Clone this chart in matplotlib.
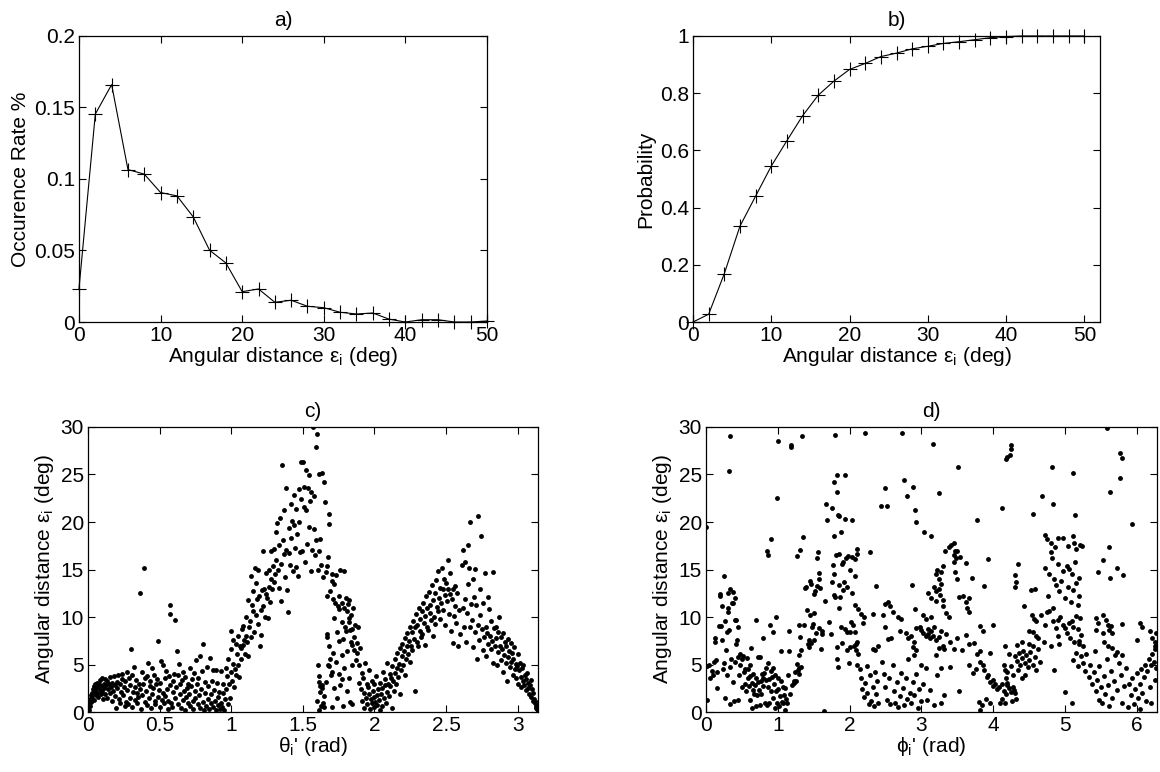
import numpy as np
import matplotlib
matplotlib.use('Agg')
import matplotlib.pyplot as plt
from matplotlib.ticker import FuncFormatter

plt.rcParams['font.family'] = ['Liberation Sans', 'DejaVu Sans']
plt.rcParams['mathtext.fontset'] = 'custom'
plt.rcParams['mathtext.rm'] = 'Liberation Sans'

# a) occurrence rate per 2 deg bin
eps_bins = [0, 2, 4, 6, 8, 10, 12, 14, 16, 18, 20, 22, 24, 26, 28, 30, 32, 34, 36, 38, 40, 42, 44, 46, 48, 50]
occ_rate = [0.0233, 0.1454, 0.166, 0.1066, 0.1034, 0.0905, 0.0882, 0.0735, 0.0502, 0.0413,
            0.0212, 0.0231, 0.0138, 0.0152, 0.011, 0.010, 0.0068, 0.0056, 0.0063, 0.002,
            0.0, 0.0016, 0.0016, 0.0, 0.0, 0.0007]

# b) cumulative probability
cum_prob = [0.0, 0.027, 0.169, 0.335, 0.44, 0.545, 0.634, 0.721, 0.793, 0.842,
            0.883, 0.904, 0.928, 0.94, 0.955, 0.964, 0.974, 0.98, 0.987, 0.994,
            0.998, 1.0, 1.0, 1.0, 1.0, 1.0]

# c) angular distance vs theta' (rad, deg)
theta_pts = [
    (0.005, 0.2), (0.008, 0.9), (0.012, 1.4), (0.015, 0.6), (0.02, 1.8), (0.022, 1.1), (0.026, 2.0), (0.03, 1.5),
    (0.033, 2.4), (0.036, 1.9), (0.04, 2.7), (0.043, 1.3), (0.046, 2.2), (0.05, 2.9), (0.053, 1.8), (0.057, 2.5),
    (0.06, 3.1), (0.064, 2.0), (0.068, 2.6), (0.072, 1.6), (0.075, 2.9), (0.08, 2.3), (0.083, 3.4), (0.087, 1.9),
    (0.09, 2.7), (0.095, 3.6), (0.1, 2.2), (0.104, 1.4), (0.108, 3.0), (0.112, 2.5), (0.116, 3.5), (0.12, 1.9),
    (0.125, 2.8), (0.13, 3.3), (0.135, 1.5), (0.14, 2.4), (0.145, 3.0), (0.15, 2.0), (0.155, 3.7), (0.16, 2.6),
    (0.165, 1.2), (0.17, 3.1), (0.175, 2.2), (0.18, 3.8), (0.185, 2.8), (0.19, 1.7), (0.195, 0.4), (0.2, 3.2),
    (0.205, 2.5), (0.21, 3.9), (0.215, 1.4), (0.22, 2.9), (0.225, 0.9), (0.23, 2.1), (0.235, 3.5), (0.24, 4.0),
    (0.245, 1.8), (0.25, 2.6), (0.255, 0.6), (0.26, 3.3), (0.265, 1.1), (0.27, 4.2), (0.275, 2.3), (0.28, 0.8),
    (0.285, 3.6), (0.29, 1.5), (0.295, 2.8), (0.3, 6.6), (0.305, 0.5), (0.31, 3.9), (0.315, 2.1), (0.32, 4.7),
    (0.325, 1.3), (0.33, 2.6), (0.335, 3.4), (0.34, 0.9), (0.345, 2.0), (0.35, 1.6), (0.355, 3.0), (0.36, 12.5),
    (0.365, 2.4), (0.37, 0.3), (0.375, 1.8), (0.38, 4.2), (0.385, 2.9), (0.39, 15.2), (0.395, 1.1), (0.4, 3.6),
    (0.405, 2.2), (0.41, 0.7), (0.415, 3.8), (0.42, 5.2), (0.425, 1.5), (0.43, 2.7), (0.435, 3.3), (0.44, 0.4),
    (0.445, 4.6), (0.45, 1.9), (0.455, 2.5), (0.46, 3.9), (0.465, 1.2), (0.47, 0.8), (0.475, 2.9), (0.48, 3.5),
    (0.485, 1.6), (0.49, 7.5), (0.495, 2.3), (0.5, 0.5), (0.505, 3.1), (0.51, 5.4), (0.515, 1.3), (0.52, 2.0),
    (0.525, 4.9), (0.53, 0.9), (0.535, 3.6), (0.54, 1.7), (0.545, 4.3), (0.55, 2.4), (0.555, 0.3), (0.56, 1.2),
    (0.565, 3.8), (0.57, 11.3), (0.572, 10.3), (0.575, 2.8), (0.58, 1.0), (0.585, 0.5), (0.59, 3.3), (0.595, 2.1),
    (0.6, 4.0), (0.605, 1.5), (0.61, 9.7), (0.615, 2.6), (0.62, 6.4), (0.625, 0.8), (0.63, 3.9), (0.635, 5.1),
    (0.64, 1.9), (0.645, 2.9), (0.65, 0.4), (0.655, 3.4), (0.66, 4.2), (0.665, 1.3), (0.67, 2.2), (0.675, 0.2),
    (0.68, 3.7), (0.685, 1.6), (0.69, 2.5), (0.695, 0.9), (0.7, 3.0), (0.705, 1.9), (0.71, 4.6), (0.715, 0.6),
    (0.72, 2.7), (0.725, 3.5), (0.73, 1.2), (0.735, 0.3), (0.74, 4.1), (0.745, 2.2), (0.75, 1.5), (0.755, 5.5),
    (0.76, 2.9), (0.765, 0.8), (0.77, 3.6), (0.775, 1.8), (0.78, 5.9), (0.785, 0.4), (0.79, 2.4), (0.795, 4.3),
    (0.8, 7.2), (0.805, 1.1), (0.81, 0.2), (0.815, 3.2), (0.82, 2.0), (0.825, 0.6), (0.83, 4.7), (0.835, 1.4),
    (0.84, 2.7), (0.845, 0.3), (0.85, 5.7), (0.855, 1.9), (0.86, 0.9), (0.865, 3.3), (0.87, 4.4), (0.875, 0.5),
    (0.88, 2.3), (0.885, 1.2), (0.89, 4.4), (0.895, 0.2), (0.9, 3.1), (0.905, 1.6), (0.91, 0.7), (0.915, 2.1),
    (0.92, 0.3), (0.925, 1.0), (0.93, 4.3), (0.935, 0.5), (0.94, 2.0), (0.945, 3.0), (0.95, 0.2), (0.955, 1.4),
    (0.96, 4.6), (0.965, 2.4), (0.97, 3.8), (0.975, 0.8), (0.98, 5.6), (0.985, 2.9), (0.99, 1.5), (0.995, 4.2),
    (1.0, 8.5), (1.0, 6.6), (1.005, 3.3), (1.01, 7.6), (1.015, 5.1), (1.02, 2.6), (1.025, 4.5), (1.03, 7.2),
    (1.035, 3.9), (1.04, 6.1), (1.045, 8.0), (1.05, 5.0), (1.055, 3.7), (1.06, 7.0), (1.065, 5.6), (1.07, 6.7),
    (1.075, 8.7), (1.08, 7.1), (1.085, 9.1), (1.09, 7.6), (1.095, 6.1), (1.1, 8.0), (1.105, 10.0), (1.11, 7.4),
    (1.115, 5.9), (1.12, 11.8), (1.125, 8.9), (1.13, 9.6), (1.135, 7.9), (1.14, 14.3), (1.145, 11.3), (1.15, 10.6),
    (1.155, 12.7), (1.16, 8.4), (1.165, 15.2), (1.17, 13.6), (1.175, 10.2), (1.18, 11.9), (1.185, 9.3), (1.19, 14.9),
    (1.195, 12.2), (1.2, 6.9), (1.205, 10.7), (1.21, 8.1), (1.215, 12.8), (1.22, 16.9), (1.225, 11.2), (1.23, 13.0),
    (1.235, 10.0), (1.24, 12.4), (1.245, 14.6), (1.25, 12.0), (1.255, 9.9), (1.26, 15.0), (1.265, 13.2), (1.27, 11.6),
    (1.275, 14.0), (1.28, 16.9), (1.285, 12.9), (1.29, 15.4), (1.295, 13.7), (1.3, 17.2), (1.305, 14.5), (1.31, 18.9),
    (1.315, 16.0), (1.32, 19.9), (1.325, 14.9), (1.33, 17.6), (1.335, 13.1), (1.34, 20.4), (1.345, 11.7), (1.35, 15.6),
    (1.355, 26.0), (1.36, 18.1), (1.365, 16.6), (1.37, 21.3), (1.375, 14.2), (1.38, 17.1), (1.385, 23.6), (1.39, 12.8),
    (1.395, 10.5), (1.4, 16.7), (1.405, 19.4), (1.41, 15.5), (1.415, 21.9), (1.42, 18.3), (1.425, 20.1), (1.43, 14.8),
    (1.435, 22.8), (1.44, 19.7), (1.445, 17.3), (1.45, 21.4), (1.455, 15.3), (1.46, 18.7), (1.465, 14.3), (1.47, 23.5),
    (1.475, 20.0), (1.48, 16.8), (1.485, 26.3), (1.49, 22.4), (1.495, 17.0), (1.5, 26.3), (1.505, 21.6), (1.51, 23.7),
    (1.515, 15.8), (1.52, 25.5), (1.525, 21.3), (1.53, 17.7), (1.535, 23.6), (1.54, 24.9), (1.545, 19.5), (1.55, 22.2),
    (1.555, 14.8), (1.56, 23.2), (1.565, 17.1), (1.57, 30.0), (1.575, 22.7), (1.58, 19.3), (1.585, 16.5), (1.59, 27.9),
    (1.595, 18.1), (1.6, 29.3), (1.605, 14.9), (1.61, 25.0), (1.615, 16.9), (1.62, 18.2), (1.625, 15.5), (1.63, 25.2),
    (1.6, 1.2), (1.605, 4.9), (1.61, 3.8), (1.612, 3.2), (1.615, 0.2), (1.62, 2.7), (1.622, 2.1), (1.625, 0.6),
    (1.63, 2.8), (1.635, 2.5), (1.64, 0.9), (1.645, 1.7), (1.65, 0.5), (1.66, 3.2),
    (1.64, 14.2), (1.65, 24.2), (1.655, 22.1), (1.66, 14.7), (1.665, 12.2), (1.67, 15.4), (1.675, 16.3), (1.68, 20.8),
    (1.685, 19.8), (1.69, 12.7), (1.7, 14.5), (1.705, 13.8), (1.71, 11.9), (1.715, 13.5), (1.72, 9.9), (1.725, 11.5),
    (1.73, 14.4), (1.74, 8.4), (1.745, 11.2), (1.75, 12.2), (1.755, 10.8), (1.76, 14.9), (1.77, 11.5), (1.775, 9.5),
    (1.78, 7.7), (1.785, 14.8), (1.79, 11.0), (1.795, 8.9), (1.8, 12.0),
    (1.665, 8.2), (1.67, 7.9), (1.675, 5.0), (1.68, 4.8), (1.685, 6.9), (1.69, 5.6), (1.695, 3.9), (1.7, 0.5),
    (1.705, 4.2), (1.71, 6.2), (1.72, 2.5), (1.73, 5.3), (1.74, 1.5), (1.75, 4.0), (1.755, 7.5), (1.76, 2.8),
    (1.77, 6.0), (1.775, 3.5), (1.78, 0.6), (1.79, 4.6), (1.8, 8.5), (1.805, 2.2), (1.81, 6.4), (1.82, 3.6),
    (1.825, 9.5), (1.83, 1.1), (1.835, 7.4), (1.84, 0.8), (1.845, 4.9),
    (1.81, 10.6), (1.815, 11.4), (1.82, 9.9), (1.825, 11.8), (1.83, 8.6), (1.835, 10.2), (1.84, 7.1), (1.845, 8.7),
    (1.85, 10.9), (1.855, 6.5), (1.86, 7.9), (1.865, 9.2), (1.87, 5.5), (1.875, 7.3), (1.88, 6.2), (1.885, 8.9),
    (1.89, 4.9), (1.895, 3.1), (1.9, 6.7), (1.905, 2.4), (1.91, 4.1), (1.915, 1.2), (1.92, 3.6), (1.925, 0.4),
    (1.93, 2.0), (1.935, 5.2), (1.94, 1.5), (1.945, 3.0), (1.95, 0.8), (1.955, 2.6), (1.96, 1.9), (1.965, 4.4),
    (1.97, 0.3), (1.975, 1.4), (1.98, 3.3), (1.985, 0.9), (1.99, 2.2), (1.995, 1.6), (2.0, 0.5), (2.0, 2.9),
    (2.005, 1.1), (2.01, 3.8), (2.015, 1.8), (2.02, 0.7), (2.025, 2.4), (2.03, 1.3), (2.035, 0.2), (2.04, 3.1),
    (2.045, 1.9), (2.05, 2.5), (2.055, 0.6), (2.06, 4.2), (2.065, 1.5), (2.07, 2.8), (2.075, 3.5), (2.08, 1.0),
    (2.085, 2.1), (2.09, 5.2), (2.095, 3.0), (2.1, 1.7), (2.105, 4.0), (2.11, 2.7), (2.115, 3.6), (2.12, 0.4),
    (2.125, 4.8), (2.13, 3.3), (2.135, 2.2), (2.14, 5.6), (2.145, 4.1), (2.15, 2.9), (2.155, 6.2), (2.16, 4.6),
    (2.165, 3.7), (2.17, 5.1), (2.175, 1.9), (2.18, 6.7), (2.185, 4.4), (2.19, 5.9), (2.195, 7.2), (2.2, 5.0),
    (2.205, 6.4), (2.21, 3.9), (2.215, 7.8), (2.22, 5.6), (2.225, 6.9), (2.23, 8.3), (2.235, 6.1), (2.24, 7.5),
    (2.245, 5.3), (2.25, 9.0), (2.255, 7.0), (2.26, 8.4), (2.265, 6.5), (2.27, 9.6), (2.275, 7.7), (2.28, 2.2),
    (2.285, 8.9), (2.29, 10.3), (2.295, 7.4), (2.3, 9.2), (2.305, 6.9), (2.31, 11.0), (2.315, 8.5), (2.32, 9.8),
    (2.325, 7.9), (2.33, 10.6), (2.335, 8.2), (2.34, 11.5), (2.345, 9.4), (2.35, 10.1), (2.355, 7.1), (2.36, 12.2),
    (2.365, 9.0), (2.37, 10.9), (2.375, 8.6), (2.38, 12.6), (2.385, 10.4), (2.39, 11.3), (2.395, 9.7), (2.4, 13.4),
    (2.405, 8.0), (2.41, 11.8), (2.415, 10.0), (2.42, 12.5), (2.425, 9.3), (2.43, 13.9), (2.435, 11.1), (2.44, 10.6),
    (2.445, 14.8), (2.45, 12.0), (2.455, 9.8), (2.46, 13.1), (2.465, 11.5), (2.47, 15.2), (2.475, 12.9), (2.48, 10.7),
    (2.485, 14.0), (2.49, 12.3), (2.495, 9.2), (2.5, 13.6), (2.505, 11.7), (2.51, 16.0), (2.515, 13.0), (2.52, 10.3),
    (2.525, 12.4), (2.53, 14.6), (2.535, 8.5), (2.54, 11.9), (2.545, 12.9), (2.55, 7.3), (2.555, 10.1), (2.56, 13.3),
    (2.565, 11.2), (2.57, 9.4), (2.575, 12.5), (2.58, 7.0), (2.59, 10.7), (2.6, 8.2), (2.61, 15.5), (2.615, 10.9),
    (2.62, 17.1), (2.625, 9.0), (2.63, 11.9), (2.635, 15.8), (2.64, 7.4), (2.645, 10.4), (2.65, 17.6), (2.655, 13.5),
    (2.66, 15.2), (2.665, 8.9), (2.67, 20.0), (2.675, 11.4), (2.68, 9.7), (2.685, 14.0), (2.69, 6.8), (2.695, 12.1),
    (2.7, 8.4), (2.705, 15.1), (2.71, 11.3), (2.715, 5.6), (2.72, 20.6), (2.725, 9.2), (2.73, 7.6), (2.735, 13.0),
    (2.74, 10.2), (2.745, 18.5), (2.75, 8.7), (2.755, 6.5), (2.76, 11.5), (2.765, 7.9), (2.77, 14.6), (2.775, 9.0),
    (2.78, 5.9), (2.785, 8.3), (2.79, 12.1), (2.795, 7.2), (2.8, 10.8), (2.805, 8.0), (2.81, 6.6), (2.815, 9.6),
    (2.82, 7.5), (2.825, 14.7), (2.83, 5.2), (2.835, 8.8), (2.84, 6.9), (2.845, 9.0), (2.85, 7.8), (2.855, 4.9),
    (2.86, 8.4), (2.865, 6.3), (2.87, 10.0), (2.875, 7.0), (2.88, 5.5), (2.885, 7.9), (2.89, 6.6), (2.895, 4.2),
    (2.9, 8.3), (2.905, 6.0), (2.91, 7.4), (2.915, 5.2), (2.92, 6.9), (2.925, 3.3), (2.93, 7.7), (2.935, 5.8),
    (2.94, 6.4), (2.945, 4.7), (2.95, 7.3), (2.955, 5.3), (2.96, 6.2), (2.965, 3.9), (2.97, 5.6), (2.975, 6.8),
    (2.98, 4.5), (2.985, 5.1), (2.99, 3.6), (2.995, 4.8), (3.0, 6.1), (3.005, 3.0), (3.01, 4.4), (3.015, 5.2),
    (3.02, 3.7), (3.025, 2.6), (3.03, 4.6), (3.035, 3.3), (3.04, 4.9), (3.045, 2.8), (3.05, 3.9), (3.055, 2.3),
    (3.06, 3.5), (3.065, 4.1), (3.07, 2.5), (3.075, 3.1), (3.08, 1.9), (3.085, 2.8), (3.09, 3.4), (3.095, 1.6),
    (3.1, 2.4), (3.105, 1.2), (3.11, 2.0), (3.115, 1.4), (3.12, 0.9), (3.125, 1.1), (3.128, 0.6), (3.13, 0.4),
    (3.133, 0.8), (3.136, 0.3), (3.14, 0.1),
]

# d) angular distance vs phi' (rad, deg)
phi_pts = [
    (0.0, 19.5), (0.01, 1.3), (0.02, 4.8), (0.04, 5.0), (0.06, 3.6), (0.08, 4.3), (0.1, 3.9), (0.11, 5.3),
    (0.12, 7.4), (0.13, 7.8), (0.14, 5.5), (0.15, 4.2), (0.16, 2.5), (0.18, 9.1), (0.19, 12.2), (0.2, 12.4),
    (0.21, 9.1), (0.22, 11.2), (0.23, 7.6), (0.24, 4.5), (0.25, 14.3), (0.25, 5.2), (0.26, 1.5), (0.27, 9.6),
    (0.28, 6.5), (0.29, 8.4), (0.29, 3.9), (0.3, 11.0), (0.3, 12.5), (0.31, 10.5), (0.32, 8.6), (0.32, 25.4),
    (0.33, 29.1), (0.33, 12.9), (0.34, 4.7), (0.34, 0.8), (0.35, 5.6), (0.36, 11.5), (0.37, 12.6), (0.38, 3.2),
    (0.38, 11.5), (0.39, 1.2), (0.4, 9.7), (0.4, 5.3), (0.41, 12.0), (0.42, 7.2), (0.42, 9.7), (0.43, 7.6),
    (0.44, 1.3), (0.44, 9.0), (0.45, 5.8), (0.46, 3.9), (0.47, 5.0), (0.48, 6.1), (0.5, 5.6), (0.5, 2.6),
    (0.52, 5.9), (0.53, 4.2), (0.54, 3.0), (0.55, 4.5), (0.56, 2.2), (0.57, 5.7), (0.58, 3.6), (0.59, 4.5),
    (0.6, 2.7), (0.61, 3.8), (0.62, 1.3), (0.62, 4.9), (0.63, 6.7), (0.64, 0.4), (0.64, 3.1), (0.65, 2.3),
    (0.66, 4.0), (0.67, 1.9), (0.68, 2.8), (0.69, 3.6), (0.7, 0.6), (0.7, 9.7), (0.71, 1.8), (0.72, 5.8),
    (0.73, 3.2), (0.74, 2.3), (0.75, 5.8), (0.75, 0.7), (0.76, 3.3), (0.77, 1.9), (0.78, 4.0), (0.79, 2.7),
    (0.8, 7.8), (0.8, 3.6), (0.81, 4.1), (0.82, 1.0), (0.83, 3.4), (0.84, 4.6), (0.85, 0.7), (0.85, 17.0),
    (0.86, 16.5), (0.86, 2.6), (0.87, 5.2), (0.88, 3.5), (0.88, 0.9), (0.89, 9.2), (0.9, 18.2), (0.9, 4.3),
    (0.91, 2.2), (0.92, 3.7), (0.93, 8.4), (0.93, 1.5), (0.94, 4.6), (0.95, 2.9), (0.96, 0.4), (0.96, 3.9),
    (0.97, 10.0), (0.98, 2.2), (0.99, 22.5), (0.99, 1.0), (1.0, 28.5), (1.0, 3.6), (1.01, 2.4), (1.02, 0.6),
    (1.03, 1.7), (1.04, 3.3), (1.05, 6.4), (1.06, 1.1), (1.07, 2.6), (1.08, 0.9), (1.09, 1.8), (1.1, 2.5),
    (1.1, 0.2), (1.11, 1.4), (1.13, 1.0), (1.14, 3.9), (1.15, 6.4), (1.16, 8.5), (1.17, 1.9), (1.19, 27.9),
    (1.19, 28.1), (1.2, 2.8), (1.22, 3.3), (1.23, 3.1), (1.24, 4.2), (1.25, 3.3), (1.27, 16.4), (1.27, 5.1),
    (1.28, 4.4), (1.29, 6.0), (1.29, 4.0), (1.3, 9.2), (1.3, 4.6), (1.31, 17.1), (1.31, 7.9), (1.32, 4.7),
    (1.33, 6.5), (1.34, 29.1), (1.35, 18.4), (1.36, 9.2), (1.38, 13.1), (1.4, 13.2), (1.41, 10.7), (1.42, 7.2),
    (1.43, 6.8), (1.44, 7.6), (1.45, 13.8), (1.45, 10.2), (1.46, 7.3), (1.47, 13.5), (1.48, 8.9), (1.49, 9.3),
    (1.5, 7.6), (1.5, 12.4), (1.51, 10.4), (1.52, 12.7), (1.53, 8.3), (1.54, 16.2), (1.55, 13.3), (1.56, 16.8),
    (1.57, 8.8), (1.58, 14.6), (1.58, 14.0), (1.59, 13.1), (1.6, 6.6), (1.61, 8.5), (1.62, 8.2), (1.65, 0.1),
    (1.66, 11.7), (1.67, 21.9), (1.68, 20.2), (1.72, 9.5), (1.74, 8.2), (1.75, 13.7), (1.76, 21.5), (1.77, 15.5),
    (1.78, 24.2), (1.78, 18.5), (1.79, 12.3), (1.79, 14.5), (1.8, 29.2), (1.8, 12.1), (1.81, 16.5), (1.82, 23.2),
    (1.82, 6.8), (1.83, 24.9), (1.83, 5.6), (1.84, 20.7), (1.84, 4.7), (1.85, 16.6), (1.85, 11.0), (1.86, 20.6),
    (1.86, 13.4), (1.87, 12.1), (1.88, 18.9), (1.88, 9.0), (1.89, 15.6), (1.9, 7.3), (1.91, 12.8), (1.91, 15.8),
    (1.92, 13.7), (1.93, 8.7), (1.94, 24.9), (1.94, 20.3), (1.95, 16.2), (1.96, 6.5), (1.97, 13.2), (1.97, 8.4),
    (1.98, 16.4), (1.99, 5.2), (2.0, 14.9), (2.0, 8.4), (2.01, 6.8), (2.02, 9.5), (2.03, 20.2), (2.03, 12.5),
    (2.04, 16.3), (2.05, 9.2), (2.06, 7.0), (2.07, 14.3), (2.08, 16.1), (2.08, 11.3), (2.09, 6.5), (2.1, 17.2),
    (2.1, 7.4), (2.11, 5.0), (2.12, 10.8), (2.12, 6.1),
    (2.22, 29.4), (2.73, 29.4), (3.16, 28.2), (4.18, 26.6), (3.51, 25.8), (2.76, 24.4), (2.5, 23.6), (2.88, 23.7),
    (2.8, 22.7), (3.25, 23.0), (2.44, 21.7), (2.52, 21.7), (2.91, 21.3), (4.13, 21.5), (2.93, 20.0), (3.77, 20.2),
    (3.04, 18.9), (3.13, 18.5), (2.1, 16.6), (2.29, 16.8), (3.93, 16.1),
    (3.33, 16.9), (3.38, 17.4), (3.42, 17.6), (3.45, 17.8), (3.47, 17.0), (3.46, 16.5), (3.48, 16.2), (3.5, 17.0),
    (3.45, 15.8), (3.54, 16.3), (3.2, 14.5), (3.22, 15.0), (3.25, 14.0), (3.27, 13.5), (3.3, 15.4), (3.18, 13.2),
    (3.24, 12.9), (3.28, 14.7), (3.47, 14.7), (3.5, 14.0), (3.62, 15.7), (3.71, 14.1), (3.88, 13.3), (2.37, 13.3),
    (2.87, 13.4), (3.09, 12.5), (3.14, 12.0), (3.2, 12.7), (3.2, 11.7), (3.26, 12.3), (3.3, 11.2), (3.34, 10.4),
    (3.38, 10.0), (3.3, 11.8), (3.52, 12.1), (3.58, 12.2), (3.62, 11.6), (3.66, 12.0), (3.64, 11.0), (3.66, 10.5),
    (2.49, 11.4), (2.54, 11.6), (2.57, 11.2), (2.6, 10.5), (2.16, 10.3), (2.2, 10.0), (2.33, 10.3), (2.47, 10.2),
    (2.68, 10.0), (2.72, 9.8), (2.91, 10.8), (3.02, 10.2), (3.06, 9.8), (3.14, 10.0), (2.07, 8.4), (2.09, 7.2),
    (2.19, 9.4), (2.32, 6.6), (2.35, 6.5), (2.4, 6.9), (2.49, 9.0), (2.53, 7.7), (2.58, 7.8), (2.7, 8.5),
    (2.78, 8.3), (2.81, 7.8), (2.86, 8.0), (2.88, 6.8), (2.9, 6.0), (2.93, 6.5), (2.9, 7.4), (2.93, 8.8),
    (2.98, 9.0), (3.0, 8.6), (3.03, 8.3), (3.06, 8.0), (3.09, 8.7), (3.1, 8.2), (3.12, 7.8), (3.14, 8.5),
    (3.16, 8.0), (3.18, 9.0), (3.2, 7.6), (3.24, 7.9), (3.28, 8.5), (3.3, 7.0), (3.32, 6.6), (3.35, 8.2),
    (3.4, 7.4), (3.46, 6.6), (3.5, 7.8), (3.56, 6.5), (3.62, 8.1), (3.66, 7.2), (3.28, 4.6), (3.07, 4.6),
    (3.2, 6.0), (3.25, 6.7), (3.74, 7.3), (3.78, 6.1), (3.82, 5.3), (3.82, 6.4), (3.95, 6.2), (4.0, 9.2),
    (4.16, 6.9), (3.82, 9.1), (3.86, 8.5), (3.86, 5.0), (3.88, 4.4), (3.92, 3.7), (3.95, 3.2), (4.0, 2.7),
    (4.05, 2.4), (3.93, 3.9), (4.0, 3.4), (4.03, 2.9), (4.08, 2.6), (4.12, 3.0), (4.15, 2.2), (4.18, 1.9),
    (4.2, 2.8), (3.8, 1.1), (3.84, 0.7), (3.9, 1.4), (3.95, 0.9), (3.82, 0.2), (4.1, 0.9),
    (2.14, 4.5), (2.16, 3.6), (2.18, 2.4), (2.2, 1.6), (2.22, 3.1), (2.24, 4.8), (2.25, 2.0), (2.27, 0.8),
    (2.28, 3.9), (2.3, 1.2), (2.32, 2.6), (2.34, 0.6), (2.35, 4.2), (2.37, 1.9), (2.38, 3.3), (2.4, 0.9),
    (2.45, 5.3), (2.48, 4.0), (2.5, 2.6), (2.52, 1.3), (2.55, 3.6), (2.57, 0.8), (2.6, 4.9), (2.62, 2.2),
    (2.64, 1.0), (2.66, 3.2), (2.68, 0.5), (2.7, 1.7), (2.72, 4.1), (2.74, 2.5), (2.76, 0.7), (2.78, 3.6),
    (2.8, 1.4), (2.82, 5.6), (2.84, 2.0), (2.86, 0.9), (2.88, 3.2), (2.9, 1.8), (2.92, 4.0), (2.95, 0.4),
    (2.97, 2.4), (3.0, 5.0), (3.0, 1.2), (3.02, 3.0), (3.08, 1.3), (3.12, 2.3), (3.18, 0.7), (3.22, 3.9),
    (3.28, 0.9), (3.32, 1.8), (3.4, 4.7), (3.52, 2.2), (3.67, 5.0), (3.76, 4.5), (3.72, 4.1),
    (4.25, 28.1), (4.25, 27.7), (4.2, 26.8), (4.24, 27.0), (5.59, 29.9), (4.82, 25.8), (5.11, 25.2), (5.77, 27.3),
    (5.79, 26.7), (5.77, 24.6), (5.63, 23.2), (4.68, 22.7), (4.83, 21.9), (5.14, 20.7), (4.56, 20.8), (5.93, 19.8),
    (4.73, 18.6), (4.75, 18.2), (4.8, 17.8), (4.86, 17.4), (4.9, 18.3), (4.97, 18.3), (5.05, 17.5), (5.12, 18.5),
    (5.13, 17.8), (5.15, 17.2), (5.21, 17.6), (5.24, 17.5), (4.8, 16.8), (4.82, 16.2), (5.61, 17.4), (5.53, 16.0),
    (5.73, 15.2), (5.46, 14.7), (5.63, 14.1), (5.81, 14.4), (4.35, 15.6), (4.3, 14.4), (4.32, 13.7), (4.31, 13.2),
    (4.73, 15.2), (4.78, 14.5), (4.85, 14.0), (4.88, 13.4), (4.92, 12.7), (4.95, 13.8), (4.98, 14.8), (5.0, 12.0),
    (5.03, 15.4), (5.05, 13.2), (5.08, 11.6), (5.1, 14.5), (5.12, 12.8), (5.14, 15.8), (5.16, 13.6), (5.18, 11.3),
    (5.06, 15.1), (4.9, 15.6), (4.76, 12.2), (4.83, 11.0), (5.2, 12.2), (5.2, 14.1), (4.53, 12.8), (4.58, 12.9),
    (4.43, 11.2), (4.54, 10.2), (4.57, 9.8), (4.5, 8.5), (4.56, 8.4), (4.6, 8.0), (4.63, 7.8), (4.71, 7.4),
    (4.8, 6.9), (4.6, 9.6), (4.67, 10.2), (4.72, 9.2), (4.75, 10.5), (4.78, 10.6), (4.83, 9.6), (4.87, 8.8),
    (4.9, 9.7), (4.9, 8.0), (4.92, 7.2), (4.93, 10.0), (4.98, 9.2), (5.0, 8.8), (5.03, 8.3), (5.06, 9.4),
    (5.1, 9.6), (5.12, 9.0), (5.15, 10.1), (5.18, 8.7), (5.2, 7.5), (5.21, 9.9), (5.44, 9.9), (5.46, 9.4),
    (5.53, 10.2), (5.57, 9.7), (5.6, 9.2), (5.62, 8.6), (5.64, 9.1), (5.66, 8.3), (5.8, 9.3), (6.05, 9.4),
    (6.08, 9.0), (5.44, 8.6), (5.53, 8.3), (5.07, 7.8), (5.13, 7.4), (5.2, 7.2), (5.25, 6.9), (5.55, 7.4),
    (5.6, 6.9), (5.65, 6.7), (5.72, 6.3), (5.8, 6.0), (6.0, 7.6), (6.18, 8.5), (6.22, 7.8), (6.25, 7.4),
    (6.27, 8.3), (6.26, 7.0), (4.85, 4.4), (5.0, 2.1), (5.1, 1.0), (5.23, 8.1),
    (4.3, 5.9), (4.33, 5.4), (4.36, 6.2), (4.38, 5.0), (4.4, 5.7), (4.42, 6.4), (4.44, 5.2), (4.46, 6.0),
    (4.48, 4.7), (4.5, 5.5), (4.52, 6.3), (4.55, 5.0), (4.58, 5.8), (4.6, 4.4), (4.62, 6.6), (4.65, 5.3),
    (4.35, 4.4), (4.25, 4.8), (4.28, 3.9), (4.4, 3.6), (4.45, 3.9), (4.5, 7.2), (4.55, 7.0), (4.4, 7.4),
    (4.33, 7.1), (4.22, 6.1), (4.2, 4.2), (4.15, 4.9), (4.17, 4.4), (4.18, 3.6), (4.2, 3.1), (4.22, 2.5),
    (4.25, 2.1), (4.28, 2.6), (4.3, 2.0), (4.32, 1.4), (4.16, 1.0), (4.13, 1.4), (4.27, 1.2), (4.29, 2.3),
    (5.12, 5.5), (5.15, 6.2), (5.18, 4.8), (5.22, 5.9), (5.25, 5.2), (5.28, 4.3), (5.3, 6.1), (5.33, 3.7),
    (5.35, 5.0), (5.38, 2.9), (5.4, 4.2), (5.42, 6.4), (5.43, 2.2), (5.45, 3.4), (5.47, 1.3), (5.48, 4.8),
    (5.5, 2.6), (5.52, 0.9), (5.54, 3.8), (5.56, 1.9), (5.58, 5.6), (5.6, 2.8), (5.62, 0.6), (5.64, 4.3),
    (5.66, 1.5), (5.68, 3.3), (5.7, 6.0), (5.72, 2.3), (5.75, 5.2), (5.78, 3.9), (5.8, 1.0), (5.82, 2.7),
    (5.85, 4.6), (5.88, 0.5), (5.9, 2.9), (5.92, 1.8), (5.94, 3.6), (5.96, 0.8), (5.98, 2.4), (6.0, 4.1),
    (6.02, 1.5), (6.04, 3.0), (6.05, 0.3), (6.06, 4.5), (6.08, 2.0), (6.1, 3.7), (6.12, 5.0), (6.13, 1.2),
    (6.15, 4.3), (6.17, 5.6), (6.18, 2.6), (6.2, 4.9), (6.22, 6.1), (6.24, 5.3), (6.26, 6.6), (6.27, 4.6),
    (6.28, 7.0), (6.25, 3.4), (6.2, 1.0),
]

theta = np.array([p[0] for p in theta_pts])
eps_theta = np.array([p[1] for p in theta_pts])
phi = np.array([p[0] for p in phi_pts])
eps_phi = np.array([p[1] for p in phi_pts])

fs = 15
fig = plt.figure(figsize=(11.6, 7.72), dpi=100)
ax_a = fig.add_axes([0.0681, 0.5829, 0.3517, 0.3705])
ax_b = fig.add_axes([0.5974, 0.5829, 0.3509, 0.3705])
ax_c = fig.add_axes([0.0759, 0.0777, 0.3879, 0.3692])
ax_d = fig.add_axes([0.6086, 0.0777, 0.3888, 0.3692])

fmt_g = FuncFormatter(lambda v, p: '%g' % round(v, 4))
eps_label = r'Angular distance ε$_\mathregular{i}$ (deg)'

for ax in (ax_a, ax_b, ax_c, ax_d):
    ax.tick_params(direction='in', top=True, right=True, length=5, width=0.8, labelsize=fs, pad=3)
    for s in ax.spines.values():
        s.set_linewidth(0.9)
    ax.xaxis.set_major_formatter(fmt_g)
    ax.yaxis.set_major_formatter(fmt_g)

ax_a.plot(eps_bins, occ_rate, 'k-', marker='+', markersize=10, markeredgewidth=0.8, linewidth=0.8, clip_on=False)
ax_a.set_xlim(0, 50)
ax_a.set_ylim(0, 0.2)
ax_a.set_xticks([0, 10, 20, 30, 40, 50])
ax_a.set_yticks([0, 0.05, 0.1, 0.15, 0.2])
ax_a.set_xlabel(eps_label, fontsize=fs, labelpad=0)
ax_a.set_ylabel('Occurence Rate %', fontsize=fs, labelpad=3)
ax_a.set_title('a)', fontsize=fs, pad=7)

ax_b.plot(eps_bins, cum_prob, 'k-', marker='+', markersize=10, markeredgewidth=0.8, linewidth=0.8, clip_on=False)
ax_b.set_xlim(0, 52)
ax_b.set_ylim(0, 1)
ax_b.set_xticks([0, 10, 20, 30, 40, 50])
ax_b.set_yticks([0, 0.2, 0.4, 0.6, 0.8, 1])
ax_b.set_xlabel(eps_label, fontsize=fs, labelpad=0)
ax_b.set_ylabel('Probability', fontsize=fs, labelpad=3)
ax_b.set_title('b)', fontsize=fs, pad=7)

ax_c.plot(theta, eps_theta, 'ko', markersize=3.5, markeredgewidth=0)
ax_c.set_xlim(0, np.pi)
ax_c.set_ylim(0, 30)
ax_c.set_xticks([0, 0.5, 1, 1.5, 2, 2.5, 3])
ax_c.set_yticks([0, 5, 10, 15, 20, 25, 30])
ax_c.set_xlabel(r"θ$_\mathregular{i}$' (rad)", fontsize=fs, labelpad=0)
ax_c.set_ylabel(eps_label, fontsize=fs, labelpad=3)
ax_c.set_title('c)', fontsize=fs, pad=7)

ax_d.plot(phi, eps_phi, 'ko', markersize=3.5, markeredgewidth=0)
ax_d.set_xlim(0, 2 * np.pi)
ax_d.set_ylim(0, 30)
ax_d.set_xticks([0, 1, 2, 3, 4, 5, 6])
ax_d.set_yticks([0, 5, 10, 15, 20, 25, 30])
ax_d.set_xlabel(r"ϕ$_\mathregular{i}$' (rad)", fontsize=fs, labelpad=0)
ax_d.set_ylabel(eps_label, fontsize=fs, labelpad=3)
ax_d.set_title('d)', fontsize=fs, pad=7)

fig.savefig('out.png', dpi=100)
